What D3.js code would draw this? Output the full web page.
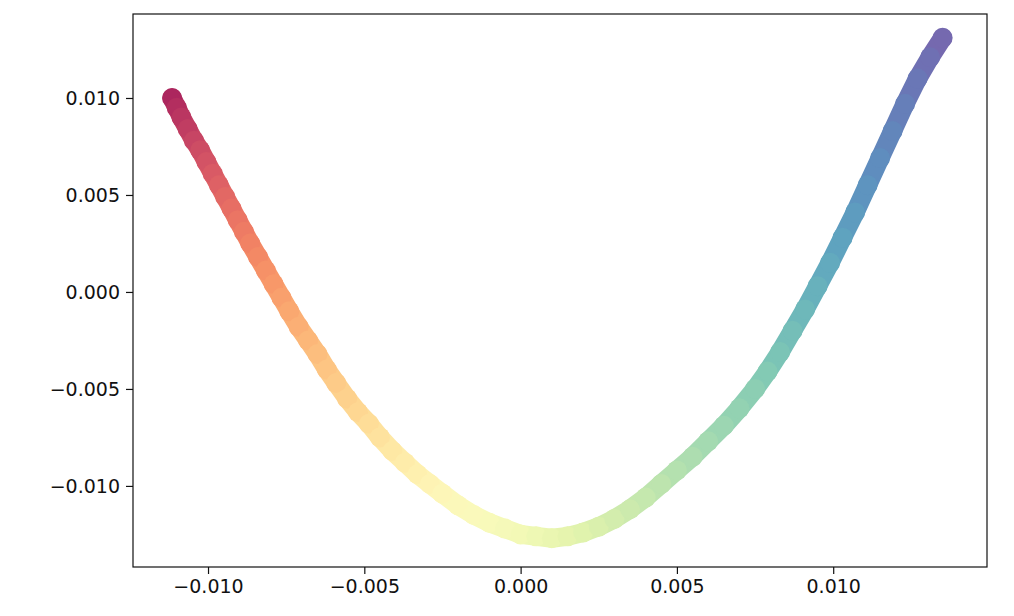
<!DOCTYPE html>
<html>
<head>
<meta charset="utf-8">
<script src="https://cdn.jsdelivr.net/npm/d3@7"></script>
<style>
body { margin: 0; background: #fff; }
text { font-family: "DejaVu Sans", sans-serif; }
</style>
</head>
<body>
<script>
// points, ordered along the curve
var xs = [-0.01115,-0.01100,-0.01085,-0.01065,-0.01045,-0.01025,-0.01005,-0.00985,-0.00965,-0.00945,
  -0.00925,-0.00905,-0.00885,-0.00865,-0.00840,-0.00815,-0.00790,-0.00765,-0.00740,-0.00710,
  -0.00680,-0.00650,-0.00620,-0.00590,-0.00555,-0.00520,-0.00485,-0.00450,-0.00410,-0.00370,
  -0.00330,-0.00290,-0.00250,-0.00200,-0.00150,-0.00100,-0.00050,0.00000,0.00050,0.00100,
  0.00150,0.00200,0.00250,0.00300,0.00350,0.00400,0.00450,0.00500,0.00550,0.00600,
  0.00650,0.00700,0.00750,0.00790,0.00830,0.00870,0.00910,0.00950,0.00990,0.01030,
  0.01070,0.01110,0.01150,0.01190,0.01230,0.01270,0.01310,0.01350];
var ys = [0.0100,0.0095,0.0090,0.0084,0.0078,0.0073,0.0067,0.0061,0.0055,0.0049,
  0.0043,0.0037,0.0031,0.0025,0.0018,0.0011,0.0004,-0.0003,-0.0010,-0.0018,
  -0.0025,-0.0032,-0.0040,-0.0047,-0.0055,-0.0062,-0.0068,-0.0075,-0.0082,-0.0088,
  -0.0094,-0.0099,-0.0104,-0.0110,-0.0115,-0.0119,-0.0122,-0.0125,-0.0126,-0.0127,
  -0.0126,-0.0124,-0.0121,-0.0117,-0.0112,-0.0106,-0.0099,-0.0092,-0.0085,-0.0077,
  -0.0069,-0.0060,-0.0050,-0.0041,-0.0031,-0.0020,-0.0009,0.0003,0.0015,0.0028,
  0.0041,0.0055,0.0069,0.0083,0.0097,0.0110,0.0121,0.0131];
var xTicks = [-0.010, -0.005, 0.000, 0.005, 0.010];
var yTicks = [-0.010, -0.005, 0.000, 0.005, 0.010];

var dataset = xs.map(function(d, i) { return [d, ys[i], i / (xs.length - 1)]; });

var margin = {top: 14, right: 27, bottom: 49, left: 133},
    width = 1014 - margin.left - margin.right,
    height = 616 - margin.top - margin.bottom;

var x = d3.scaleLinear().domain([-0.0124, 0.01492]).range([0, width]);
var y = d3.scaleLinear().domain([-0.01418, 0.01433]).range([height, 0]);

var chart = d3.select('body').append('svg')
    .attr('width', 1014).attr('height', 616);

var main = chart.append('g')
    .attr('transform', 'translate(' + margin.left + ',' + margin.top + ')');

var fmt = function(d) { return d3.format('.3f')(d).replace('-', '\u2212'); };

var gx = main.append('g')
    .attr('transform', 'translate(0,' + height + ')')
    .call(d3.axisBottom(x).tickValues(xTicks).tickFormat(fmt).tickSize(7).tickPadding(6));
var gy = main.append('g')
    .call(d3.axisLeft(y).tickValues(yTicks).tickFormat(fmt).tickSize(7).tickPadding(6));
[gx, gy].forEach(function(g) {
  g.select('.domain').remove();
  g.selectAll('text').style('font-size', '19px').attr('fill', '#111');
  g.selectAll('line').attr('stroke', '#111').attr('stroke-width', 1.2);
});

var color = function(d) { return d3.interpolateSpectral(d[2]); };
var g = main.append('g').attr('opacity', 0.85);

// band between consecutive points so the scatter reads as a solid stroke
g.selectAll('line.seg')
    .data(dataset.slice(1))
    .enter().append('line')
    .attr('class', 'seg')
    .attr('x1', function(d, i) { return x(dataset[i][0]); })
    .attr('y1', function(d, i) { return y(dataset[i][1]); })
    .attr('x2', function(d) { return x(d[0]); })
    .attr('y2', function(d) { return y(d[1]); })
    .attr('stroke', color)
    .attr('stroke-width', 19)
    .attr('stroke-linecap', 'round');

g.selectAll('circle')
    .data(dataset)
    .enter().append('circle')
    .attr('cx', function(d) { return x(d[0]); })
    .attr('cy', function(d) { return y(d[1]); })
    .attr('r', 10)
    .attr('fill', color);

main.append('rect')
    .attr('width', width).attr('height', height)
    .attr('fill', 'none').attr('stroke', '#111').attr('stroke-width', 1.2);
</script>
</body>
</html>
